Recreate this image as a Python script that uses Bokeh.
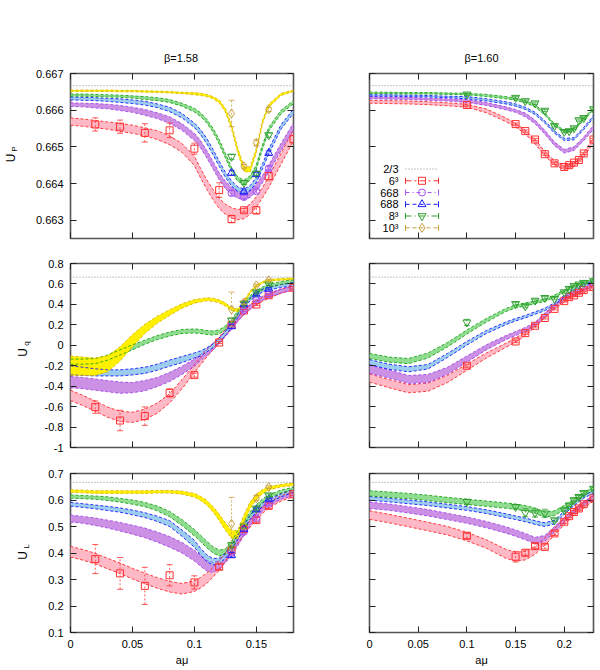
import math
from bokeh.plotting import figure
from bokeh.models import (ColumnDataSource, FixedTicker, LinearAxis, Span, Whisker,
                          TeeHead, CustomJSTickFormatter)
from bokeh.layouts import column, row
from bokeh.embed import file_html
from bokeh.resources import INLINE
from bokeh.core.properties import value

FONT = "Liberation Sans"

# ---------------- series ----------------
SERIES = ["6³", "668", "688", "8³", "10³"]
LINE_COL = ["#ff2020", "#a040e8", "#1010ff", "#10a010", "#d8b400"]
FILL_COL = ["#ffb8c6", "#cc90e4", "#9cccee", "#90dc90", "#fff000"]
MARK_COL = ["#ff3030", "#a855f7", "#2020ff", "#30a030", "#c8a040"]
MARKERS = ["square", "circle", "triangle", "inverted_triangle", "diamond"]
MARK_SIZE = [7, 7, 8, 8, 9]
DASHES = ["6 3 2 3", "4 3 1 3", "4 3", "6 3 1 3", "4 3"]

# ---------------- axes ----------------
TITLES = ["β=1.58", "β=1.60"]
X_RANGES = [(0.0, 0.18), (0.0, 0.23)]
Y_RANGES = [(0.6625, 0.667), (-1.0, 0.8), (0.1, 0.7)]
X_TICKS = [[0.0, 0.05, 0.1, 0.15], [0.0, 0.05, 0.1, 0.15, 0.2]]
X_TICK_LABELS = [["0", "0.05", "0.1", "0.15"], ["0", "0.05", "0.1", "0.15", "0.2"]]
Y_TICKS = [[0.663, 0.664, 0.665, 0.666, 0.667],
           [-1.0, -0.8, -0.6, -0.4, -0.2, 0.0, 0.2, 0.4, 0.6, 0.8],
           [0.1, 0.2, 0.3, 0.4, 0.5, 0.6, 0.7]]
Y_TICK_LABELS = [["0.663", "0.664", "0.665", "0.666", "0.667"],
                 ["-1", "-0.8", "-0.6", "-0.4", "-0.2", "0", "0.2", "0.4", "0.6", "0.8"],
                 ["0.1", "0.2", "0.3", "0.4", "0.5", "0.6", "0.7"]]
Y_NAMES = [("U", "P"), ("U", "q"), ("U", "L")]
X_NAME = "aμ"
TWO_THIRDS = 2.0 / 3.0

# ---------------- bands: beta = 1.58 ----------------
XL = [0.0, 0.01, 0.02, 0.03, 0.04, 0.05, 0.06, 0.07, 0.08, 0.09, 0.10, 0.105, 0.11, 0.115,
      0.12, 0.125, 0.13, 0.135, 0.14, 0.145, 0.15, 0.155, 0.16, 0.17, 0.18]

UP158_6 = [0.66569, 0.66566, 0.66562, 0.66558, 0.66553, 0.66548, 0.66541, 0.66532, 0.66518, 0.66497,
           0.66462, 0.66428, 0.66397, 0.66370, 0.66346, 0.66330, 0.66320, 0.66315, 0.66318, 0.66330,
           0.66350, 0.66375, 0.66404, 0.66468, 0.66532]
UP158_6W = [0.00010, 0.00010, 0.00010, 0.00010, 0.00011, 0.00011, 0.00011, 0.00012, 0.00012, 0.00012,
            0.00013, 0.00013, 0.00013, 0.00014, 0.00014, 0.00014, 0.00014, 0.00014, 0.00014, 0.00014,
            0.00014, 0.00014, 0.00015, 0.00015, 0.00015]
UP158_668 = [0.66615, 0.66614, 0.66612, 0.66610, 0.66606, 0.66601, 0.66594, 0.66585, 0.66573, 0.66554,
             0.66527, 0.66507, 0.66480, 0.66450, 0.66420, 0.66396, 0.66380, 0.66370, 0.66366, 0.66372,
             0.66389, 0.66412, 0.66440, 0.66500, 0.66555]
UP158_668W = [0.00005, 0.00005, 0.00006, 0.00006, 0.00007, 0.00007, 0.00008, 0.00008, 0.00009, 0.00009,
              0.00010, 0.00010, 0.00010, 0.00010, 0.00010, 0.00010, 0.00010, 0.00010, 0.00010, 0.00010,
              0.00010, 0.00010, 0.00010, 0.00010, 0.00010]
UP158_688 = [0.66632, 0.66631, 0.66630, 0.66628, 0.66626, 0.66623, 0.66619, 0.66612, 0.66602, 0.66585,
             0.66559, 0.66540, 0.66516, 0.66486, 0.66454, 0.66424, 0.66400, 0.66384, 0.66378, 0.66387,
             0.66410, 0.66447, 0.66487, 0.66555, 0.66597]
UP158_688W = [0.00004, 0.00004, 0.00004, 0.00004, 0.00005, 0.00005, 0.00005, 0.00005, 0.00006, 0.00006,
              0.00006, 0.00007, 0.00007, 0.00007, 0.00007, 0.00007, 0.00007, 0.00007, 0.00007, 0.00007,
              0.00007, 0.00007, 0.00007, 0.00006, 0.00006]
UP158_8 = [0.66641, 0.66641, 0.66640, 0.66639, 0.66638, 0.66636, 0.66633, 0.66630, 0.66625, 0.66615,
           0.66600, 0.66588, 0.66570, 0.66546, 0.66514, 0.66476, 0.66438, 0.66412, 0.66403, 0.66415,
           0.66445, 0.66500, 0.66548, 0.66595, 0.66622]
UP158_8W = [0.00003, 0.00003, 0.00003, 0.00003, 0.00003, 0.00003, 0.00004, 0.00004, 0.00004, 0.00004,
            0.00005, 0.00005, 0.00005, 0.00005, 0.00006, 0.00006, 0.00006, 0.00006, 0.00006, 0.00006,
            0.00006, 0.00006, 0.00005, 0.00005, 0.00004]
UP158_10 = [0.66653, 0.66653, 0.66653, 0.66653, 0.66652, 0.66652, 0.66651, 0.66650, 0.66649, 0.66647,
            0.66645, 0.66643, 0.66640, 0.66634, 0.66624, 0.66600, 0.66555, 0.66490, 0.66440, 0.66438,
            0.66490, 0.66568, 0.66612, 0.66643, 0.66653]
UP158_10W = [0.00002, 0.00002, 0.00002, 0.00002, 0.00002, 0.00002, 0.00002, 0.00002, 0.00002, 0.00002,
             0.00003, 0.00003, 0.00003, 0.00003, 0.00004, 0.00005, 0.00006, 0.00007, 0.00007, 0.00007,
             0.00006, 0.00005, 0.00004, 0.00003, 0.00002]

UQ158_6 = [-0.49, -0.54, -0.595, -0.655, -0.695, -0.705, -0.675, -0.615, -0.52, -0.38,
           -0.23, -0.155, -0.08, -0.015, 0.05, 0.125, 0.20, 0.265, 0.325, 0.375,
           0.415, 0.45, 0.48, 0.53, 0.56]
UQ158_6W = [0.05, 0.05, 0.05, 0.05, 0.05, 0.05, 0.05, 0.05, 0.045, 0.045,
            0.04, 0.035, 0.035, 0.03, 0.03, 0.03, 0.03, 0.025, 0.025, 0.025,
            0.02, 0.02, 0.02, 0.02, 0.02]
UQ158_668 = [-0.36, -0.37, -0.385, -0.40, -0.415, -0.415, -0.395, -0.36, -0.31, -0.245,
             -0.17, -0.12, -0.07, -0.015, 0.045, 0.11, 0.18, 0.25, 0.32, 0.375,
             0.42, 0.46, 0.49, 0.53, 0.565]
UQ158_668W = [0.055, 0.055, 0.055, 0.055, 0.055, 0.05, 0.05, 0.045, 0.045, 0.04,
              0.035, 0.03, 0.03, 0.03, 0.025, 0.025, 0.025, 0.02, 0.02, 0.02,
              0.02, 0.02, 0.02, 0.02, 0.02]
UQ158_688 = [-0.245, -0.255, -0.265, -0.27, -0.27, -0.26, -0.245, -0.215, -0.175, -0.14,
             -0.10, -0.08, -0.045, -0.005, 0.05, 0.115, 0.19, 0.29, 0.38, 0.45,
             0.50, 0.535, 0.555, 0.58, 0.60]
UQ158_688W = [0.045, 0.04, 0.035, 0.03, 0.03, 0.03, 0.03, 0.03, 0.03, 0.03,
              0.025, 0.025, 0.02, 0.02, 0.02, 0.02, 0.02, 0.02, 0.02, 0.015,
              0.015, 0.015, 0.015, 0.015, 0.015]
UQ158_8 = [-0.16, -0.16, -0.155, -0.12, -0.07, -0.02, 0.03, 0.075, 0.11, 0.135,
           0.14, 0.135, 0.125, 0.12, 0.13, 0.17, 0.23, 0.32, 0.41, 0.47,
           0.52, 0.555, 0.58, 0.61, 0.625]
UQ158_8W = [0.025, 0.025, 0.025, 0.025, 0.025, 0.025, 0.02, 0.02, 0.02, 0.02,
            0.02, 0.02, 0.02, 0.02, 0.02, 0.02, 0.02, 0.02, 0.02, 0.015,
            0.015, 0.015, 0.015, 0.015, 0.015]
UQ158_10 = [-0.20, -0.205, -0.21, -0.18, -0.085, 0.045, 0.16, 0.25, 0.32, 0.385,
            0.43, 0.44, 0.45, 0.445, 0.43, 0.40, 0.355, 0.34, 0.42, 0.52,
            0.58, 0.615, 0.635, 0.645, 0.652]
UQ158_10W = [0.095, 0.09, 0.085, 0.08, 0.07, 0.06, 0.045, 0.035, 0.028, 0.022,
             0.018, 0.016, 0.015, 0.015, 0.015, 0.015, 0.015, 0.015, 0.015, 0.012,
             0.01, 0.008, 0.008, 0.008, 0.008]

UL158_6 = [0.405, 0.393, 0.379, 0.36, 0.342, 0.322, 0.304, 0.287, 0.273, 0.265,
           0.275, 0.288, 0.305, 0.327, 0.352, 0.385, 0.417, 0.45, 0.48, 0.51,
           0.536, 0.56, 0.58, 0.606, 0.622]
UL158_6W = [0.02, 0.02, 0.02, 0.02, 0.02, 0.02, 0.02, 0.02, 0.02, 0.02,
            0.02, 0.02, 0.02, 0.018, 0.018, 0.016, 0.015, 0.014, 0.013, 0.012,
            0.012, 0.011, 0.01, 0.01, 0.01]
UL158_668 = [0.53, 0.525, 0.518, 0.509, 0.499, 0.488, 0.476, 0.46, 0.442, 0.42,
             0.39, 0.37, 0.352, 0.345, 0.355, 0.378, 0.405, 0.44, 0.478, 0.515,
             0.545, 0.568, 0.587, 0.613, 0.627]
UL158_668W = [0.013, 0.013, 0.014, 0.015, 0.016, 0.017, 0.018, 0.019, 0.02, 0.02,
              0.02, 0.02, 0.02, 0.018, 0.016, 0.015, 0.014, 0.013, 0.012, 0.011,
              0.01, 0.01, 0.01, 0.01, 0.01]
UL158_688 = [0.584, 0.579, 0.574, 0.568, 0.562, 0.553, 0.543, 0.529, 0.511, 0.475,
             0.435, 0.405, 0.38, 0.367, 0.37, 0.39, 0.42, 0.46, 0.50, 0.535,
             0.562, 0.582, 0.597, 0.618, 0.635]
UL158_688W = [0.007, 0.007, 0.007, 0.008, 0.008, 0.009, 0.009, 0.01, 0.011, 0.012,
              0.013, 0.013, 0.013, 0.012, 0.011, 0.01, 0.01, 0.009, 0.009, 0.008,
              0.008, 0.007, 0.007, 0.006, 0.006]
UL158_8 = [0.613, 0.611, 0.609, 0.605, 0.599, 0.592, 0.583, 0.568, 0.547, 0.515,
           0.477, 0.455, 0.432, 0.412, 0.40, 0.405, 0.435, 0.475, 0.512, 0.547,
           0.575, 0.597, 0.613, 0.632, 0.643]
UL158_8W = [0.006, 0.006, 0.006, 0.007, 0.007, 0.008, 0.008, 0.009, 0.01, 0.011,
            0.012, 0.012, 0.012, 0.012, 0.011, 0.01, 0.009, 0.009, 0.008, 0.008,
            0.007, 0.007, 0.006, 0.006, 0.005]
UL158_10 = [0.634, 0.632, 0.63, 0.63, 0.63, 0.63, 0.63, 0.631, 0.631, 0.628,
            0.618, 0.606, 0.59, 0.565, 0.535, 0.50, 0.47, 0.47, 0.53, 0.58,
            0.612, 0.632, 0.644, 0.654, 0.659]
UL158_10W = [0.005, 0.005, 0.005, 0.005, 0.005, 0.005, 0.005, 0.005, 0.005, 0.006,
             0.007, 0.008, 0.009, 0.01, 0.012, 0.014, 0.015, 0.015, 0.014, 0.012,
             0.01, 0.008, 0.006, 0.005, 0.005]

# ---------------- bands: beta = 1.60 ----------------
XR = [0.0, 0.02, 0.04, 0.06, 0.08, 0.10, 0.12, 0.14, 0.15, 0.16, 0.17, 0.18, 0.19, 0.20, 0.21, 0.22, 0.23]

UP160_6 = [0.66623, 0.66622, 0.66621, 0.66619, 0.66616, 0.66612, 0.66598, 0.66574, 0.66559, 0.66540,
           0.66514, 0.66482, 0.66456, 0.66444, 0.66452, 0.66478, 0.66518]
UP160_6W = [0.00004, 0.00004, 0.00004, 0.00004, 0.00004, 0.00004, 0.00005, 0.00005, 0.00005, 0.00005,
            0.00006, 0.00006, 0.00006, 0.00006, 0.00006, 0.00006, 0.00006]
UP160_668 = [0.66634, 0.66633, 0.66632, 0.66630, 0.66628, 0.66625, 0.66617, 0.66605, 0.66598, 0.66587,
             0.66568, 0.66540, 0.66508, 0.66488, 0.66495, 0.66522, 0.66553]
UP160_668W = [0.00003, 0.00003, 0.00003, 0.00003, 0.00003, 0.00004, 0.00004, 0.00004, 0.00004, 0.00005,
              0.00005, 0.00005, 0.00005, 0.00005, 0.00005, 0.00005, 0.00005]
UP160_688 = [0.66640, 0.66640, 0.66639, 0.66638, 0.66636, 0.66634, 0.66628, 0.66620, 0.66614, 0.66605,
             0.66591, 0.66568, 0.66540, 0.66520, 0.66522, 0.66550, 0.66582]
UP160_688W = [0.00002, 0.00002, 0.00002, 0.00002, 0.00002, 0.00003, 0.00003, 0.00003, 0.00003, 0.00003,
              0.00003, 0.00003, 0.00003, 0.00003, 0.00003, 0.00003, 0.00003]
UP160_8 = [0.66647, 0.66647, 0.66646, 0.66646, 0.66645, 0.66644, 0.66640, 0.66634, 0.66630, 0.66623,
           0.66612, 0.66590, 0.66560, 0.66542, 0.66548, 0.66575, 0.66604]
UP160_8W = [0.00002, 0.00002, 0.00002, 0.00002, 0.00002, 0.00002, 0.00003, 0.00003, 0.00003, 0.00003,
            0.00003, 0.00003, 0.00003, 0.00003, 0.00003, 0.00003, 0.00003]

UQ160_6 = [-0.32, -0.375, -0.425, -0.41, -0.33, -0.215, -0.10, 0.0, 0.05, 0.115,
           0.195, 0.29, 0.37, 0.435, 0.485, 0.53, 0.57]
UQ160_6W = [0.04, 0.04, 0.04, 0.04, 0.035, 0.03, 0.025, 0.02, 0.02, 0.02,
            0.02, 0.02, 0.015, 0.015, 0.015, 0.015, 0.015]
UQ160_668 = [-0.235, -0.28, -0.335, -0.325, -0.25, -0.135, -0.02, 0.075, 0.115, 0.155,
             0.205, 0.295, 0.385, 0.455, 0.505, 0.55, 0.59]
UQ160_668W = [0.04, 0.04, 0.04, 0.04, 0.035, 0.03, 0.025, 0.02, 0.02, 0.02,
              0.02, 0.02, 0.015, 0.015, 0.015, 0.015, 0.015]
UQ160_688 = [-0.165, -0.21, -0.235, -0.21, -0.10, 0.02, 0.13, 0.215, 0.25, 0.28,
             0.315, 0.35, 0.405, 0.48, 0.54, 0.585, 0.62]
UQ160_688W = [0.025, 0.025, 0.025, 0.022, 0.02, 0.018, 0.015, 0.013, 0.012, 0.012,
              0.012, 0.012, 0.01, 0.01, 0.01, 0.01, 0.01]
UQ160_8 = [-0.105, -0.14, -0.155, -0.10, 0.005, 0.13, 0.245, 0.345, 0.38, 0.40,
           0.42, 0.44, 0.48, 0.53, 0.58, 0.61, 0.635]
UQ160_8W = [0.025, 0.025, 0.025, 0.025, 0.022, 0.02, 0.018, 0.015, 0.015, 0.015,
            0.013, 0.012, 0.012, 0.01, 0.01, 0.01, 0.01]

UL160_6 = [0.543, 0.53, 0.515, 0.5, 0.484, 0.462, 0.434, 0.397, 0.386, 0.39,
           0.41, 0.443, 0.48, 0.52, 0.553, 0.58, 0.606]
UL160_6W = [0.016, 0.016, 0.016, 0.016, 0.016, 0.016, 0.016, 0.017, 0.017, 0.016,
            0.015, 0.014, 0.013, 0.012, 0.011, 0.01, 0.01]
UL160_668 = [0.58, 0.573, 0.563, 0.552, 0.538, 0.524, 0.507, 0.487, 0.475, 0.462,
             0.447, 0.455, 0.49, 0.525, 0.558, 0.587, 0.609]
UL160_668W = [0.012, 0.012, 0.012, 0.012, 0.012, 0.012, 0.012, 0.012, 0.012, 0.012,
              0.012, 0.011, 0.01, 0.009, 0.008, 0.008, 0.008]
UL160_688 = [0.606, 0.6, 0.593, 0.586, 0.577, 0.568, 0.556, 0.541, 0.533, 0.525,
             0.515, 0.507, 0.517, 0.552, 0.585, 0.612, 0.631]
UL160_688W = [0.007, 0.007, 0.007, 0.007, 0.007, 0.007, 0.007, 0.007, 0.007, 0.007,
              0.007, 0.007, 0.007, 0.006, 0.006, 0.005, 0.005]
UL160_8 = [0.625, 0.62, 0.615, 0.608, 0.6, 0.593, 0.586, 0.579, 0.575, 0.569,
           0.56, 0.545, 0.55, 0.572, 0.598, 0.622, 0.643]
UL160_8W = [0.01, 0.01, 0.01, 0.01, 0.01, 0.01, 0.01, 0.01, 0.01, 0.01,
            0.01, 0.01, 0.009, 0.008, 0.007, 0.006, 0.006]

# ---------------- Monte-Carlo points ----------------
X158_6 = [0.02, 0.04, 0.06, 0.08, 0.10, 0.12, 0.13, 0.14, 0.15, 0.16, 0.18]
X158_L = [0.13, 0.14, 0.15, 0.16]
X160 = [0.10, 0.15, 0.16, 0.17, 0.18, 0.19, 0.20, 0.205, 0.21, 0.215, 0.22, 0.23]

UP158_6_PT = [0.66561, 0.66555, 0.66538, 0.66545, 0.66495, 0.66382, 0.66303, 0.66327, 0.66327, 0.66420, 0.66521]
UP158_6_ERR = [0.00018, 0.00018, 0.00025, 0.00020, 0.00015, 0.00020, 0.00010, 0.00005, 0.00010, 0.00010, 0.00010]
UP158_668_PT = [0.66374, 0.66363, 0.66379, 0.66441]
UP158_688_PT = [0.66429, 0.66377, 0.66425, 0.66483]
UP158_8_PT = [0.66473, 0.66402, 0.66427, 0.66532]
UP158_10_PT = [0.66591, 0.66447, 0.66511, 0.66602]
UP158_L_ERR = [0.00007, 0.00005, 0.00005, 0.00006]
UP158_10_ERR = [0.00036, 0.00005, 0.00008, 0.00006]

UQ158_6_PT = [-0.605, -0.736, -0.693, -0.466, -0.292, 0.027, 0.20, 0.34, 0.399, 0.49, 0.563]
UQ158_6_ERR = [0.06, 0.10, 0.09, 0.04, 0.02, 0.01, 0.01, 0.01, 0.01, 0.01, 0.01]
UQ158_668_PT = [0.191, 0.343, 0.441, 0.497]
UQ158_688_PT = [0.185, 0.40, 0.497, 0.553]
UQ158_8_PT = [0.244, 0.408, 0.52, 0.596]
UQ158_10_PT = [0.35, 0.42, 0.586, 0.636]
UQ158_L_ERR = [0.02, 0.015, 0.01, 0.01]
UQ158_10_ERR = [0.17, 0.02, 0.01, 0.01]

UL158_6_PT = [0.377, 0.323, 0.276, 0.316, 0.289, 0.348, 0.41, 0.49, 0.524, 0.578, 0.622]
UL158_6_ERR = [0.055, 0.06, 0.07, 0.04, 0.025, 0.01, 0.01, 0.01, 0.01, 0.01, 0.005]
UL158_668_PT = [0.40, 0.48, 0.53, 0.585]
UL158_688_PT = [0.392, 0.49, 0.564, 0.602]
UL158_8_PT = [0.43, 0.50, 0.568, 0.618]
UL158_10_PT = [0.51, 0.50, 0.607, 0.649]
UL158_L_ERR = [0.01, 0.008, 0.006, 0.005]
UL158_10_ERR = [0.10, 0.01, 0.01, 0.005]

UP160_6_PT = [0.66614, 0.66562, 0.66543, 0.66520, 0.66480, 0.66455, 0.66445, 0.66450, 0.66457, 0.66464, 0.66482, 0.66520]
UP160_8_PT = [0.66643, 0.66634, 0.66625, 0.66619, 0.66599, 0.66557, 0.66541, 0.66543, 0.66551, 0.66573, 0.66579, 0.66603]
UP160_ERR = [0.00003, 0.00003, 0.00003, 0.00003, 0.00003, 0.00003, 0.00003, 0.00003, 0.00003, 0.00003, 0.00003, 0.00003]
UQ160_6_PT = [-0.20, 0.037, 0.119, 0.191, 0.267, 0.356, 0.432, 0.471, 0.488, 0.514, 0.54, 0.57]
UQ160_6_ERR = [0.015, 0.012, 0.012, 0.012, 0.01, 0.01, 0.01, 0.01, 0.01, 0.01, 0.01, 0.01]
UQ160_8_PT = [0.224, 0.405, 0.382, 0.438, 0.464, 0.455, 0.52, 0.553, 0.58, 0.596, 0.612, 0.629]
UQ160_8_ERR = [0.03, 0.012, 0.015, 0.012, 0.012, 0.01, 0.01, 0.01, 0.01, 0.01, 0.01, 0.01]
UL160_6_PT = [0.465, 0.386, 0.401, 0.426, 0.423, 0.474, 0.518, 0.539, 0.555, 0.568, 0.584, 0.606]
UL160_6_ERR = [0.01, 0.02, 0.01, 0.01, 0.008, 0.008, 0.006, 0.006, 0.006, 0.006, 0.006, 0.006]
UL160_8_PT = [0.593, 0.574, 0.552, 0.551, 0.55, 0.524, 0.562, 0.58, 0.60, 0.612, 0.627, 0.643]
UL160_8_ERR = [0.01, 0.008, 0.015, 0.015, 0.015, 0.005, 0.005, 0.005, 0.005, 0.005, 0.005, 0.005]

# ---------------- panel assembly ----------------
BANDS = {
    (0, 0): (XL, [(0, UP158_6, UP158_6W), (1, UP158_668, UP158_668W), (2, UP158_688, UP158_688W),
                  (3, UP158_8, UP158_8W), (4, UP158_10, UP158_10W)]),
    (1, 0): (XL, [(0, UQ158_6, UQ158_6W), (1, UQ158_668, UQ158_668W), (2, UQ158_688, UQ158_688W),
                  (3, UQ158_8, UQ158_8W), (4, UQ158_10, UQ158_10W)]),
    (2, 0): (XL, [(0, UL158_6, UL158_6W), (1, UL158_668, UL158_668W), (2, UL158_688, UL158_688W),
                  (3, UL158_8, UL158_8W), (4, UL158_10, UL158_10W)]),
    (0, 1): (XR, [(0, UP160_6, UP160_6W), (1, UP160_668, UP160_668W), (2, UP160_688, UP160_688W),
                  (3, UP160_8, UP160_8W)]),
    (1, 1): (XR, [(0, UQ160_6, UQ160_6W), (1, UQ160_668, UQ160_668W), (2, UQ160_688, UQ160_688W),
                  (3, UQ160_8, UQ160_8W)]),
    (2, 1): (XR, [(0, UL160_6, UL160_6W), (1, UL160_668, UL160_668W), (2, UL160_688, UL160_688W),
                  (3, UL160_8, UL160_8W)]),
}
POINTS = {
    (0, 0): [(0, X158_6, UP158_6_PT, UP158_6_ERR), (1, X158_L, UP158_668_PT, UP158_L_ERR),
             (2, X158_L, UP158_688_PT, UP158_L_ERR), (3, X158_L, UP158_8_PT, UP158_L_ERR),
             (4, X158_L, UP158_10_PT, UP158_10_ERR)],
    (1, 0): [(0, X158_6, UQ158_6_PT, UQ158_6_ERR), (1, X158_L, UQ158_668_PT, UQ158_L_ERR),
             (2, X158_L, UQ158_688_PT, UQ158_L_ERR), (3, X158_L, UQ158_8_PT, UQ158_L_ERR),
             (4, X158_L, UQ158_10_PT, UQ158_10_ERR)],
    (2, 0): [(0, X158_6, UL158_6_PT, UL158_6_ERR), (1, X158_L, UL158_668_PT, UL158_L_ERR),
             (2, X158_L, UL158_688_PT, UL158_L_ERR), (3, X158_L, UL158_8_PT, UL158_L_ERR),
             (4, X158_L, UL158_10_PT, UL158_10_ERR)],
    (0, 1): [(0, X160, UP160_6_PT, UP160_ERR), (3, X160, UP160_8_PT, UP160_ERR)],
    (1, 1): [(0, X160, UQ160_6_PT, UQ160_6_ERR), (3, X160, UQ160_8_PT, UQ160_8_ERR)],
    (2, 1): [(0, X160, UL160_6_PT, UL160_6_ERR), (3, X160, UL160_8_PT, UL160_8_ERR)],
}

# ---------------- layout (picture pixels; the page itself has no margin) ----------------
PAGE_W, PAGE_H = 600, 670
LEFT_STRIP_W = 32                      # strip holding the y-axis names (full height)
TOP_STRIP_H = 66                       # strip holding the column titles
FIG_X = [(32, 268), (300, 300)]
FRAME_X = [(70, 223), (369, 224)]
FIG_Y = [(66, 184), (250, 210), (460, 210)]
FRAME_Y = [(73, 165), (263, 184), (473, 159)]
# picture positions of the y-axis names: (main letter centre, subscript centre)
NAME_POS = [((10, 157.5), (13.5, 148.5)), ((22, 352), (25.5, 343)), ((22, 555), (25.5, 546))]
TITLE_POS = [(180.5, 57.5), (481.0, 57.5)]


def s2d(r, c, sx, sy):
    fx, fw = FRAME_X[c]
    fy, fh = FRAME_Y[r]
    x0, x1 = X_RANGES[c]
    y0, y1 = Y_RANGES[r]
    return x0 + (sx - fx) / fw * (x1 - x0), y1 - (sy - fy) / fh * (y1 - y0)


def style_axis(ax, ticks, labels, show):
    ax.ticker = FixedTicker(ticks=ticks, minor_ticks=[])
    ax.major_tick_in = 6
    ax.major_tick_out = 0
    ax.minor_tick_line_color = None
    ax.axis_line_color = None
    ax.major_tick_line_color = "#222222"
    ax.major_tick_line_width = 1
    if show:
        ax.major_label_overrides = {t: l for t, l in zip(ticks, labels)}
        ax.major_label_text_font = FONT
        ax.major_label_text_font_size = "11px"
        ax.major_label_text_color = "#000000"
        ax.major_label_standoff = 7
    else:
        ax.formatter = CustomJSTickFormatter(code="return ''")
        ax.major_label_text_font_size = "0px"
        ax.major_label_standoff = 0


def blank_strip(w, h):
    s = figure(width=w, height=h, x_range=(0, w), y_range=(0, h), output_backend="svg",
               toolbar_location=None, x_axis_type=None, y_axis_type=None, title=None,
               min_border_left=0, min_border_right=0, min_border_top=0, min_border_bottom=0)
    s.outline_line_color = None
    s.grid.visible = False
    return s


# left strip: y-axis names, coordinates = picture pixels (y flipped)
left_strip = blank_strip(LEFT_STRIP_W, PAGE_H)
for r in range(3):
    main, sub = Y_NAMES[r]
    (ux, uy), (bx, by) = NAME_POS[r]
    left_strip.text(x=[ux], y=[PAGE_H - uy], text=[main], angle=math.pi / 2,
                    text_align="center", text_baseline="middle", text_font=value(FONT),
                    text_font_size="12px", text_color="#000000")
    left_strip.text(x=[bx], y=[PAGE_H - by], text=[sub], angle=math.pi / 2,
                    text_align="center", text_baseline="middle", text_font=value(FONT),
                    text_font_size="8px", text_color="#000000")

# top strip: column titles
top_strip = blank_strip(PAGE_W - LEFT_STRIP_W, TOP_STRIP_H)
top_strip.text(x=[tx - LEFT_STRIP_W for tx, ty in TITLE_POS],
               y=[TOP_STRIP_H - ty for tx, ty in TITLE_POS], text=TITLES,
               text_align="center", text_baseline="middle", text_font=value(FONT),
               text_font_size="11px", text_color="#000000")


def make_panel(r, c):
    fxl, fw = FIG_X[c]
    fyt, fh = FIG_Y[r]
    frx, frw = FRAME_X[c]
    fry, frh = FRAME_Y[r]
    p = figure(width=fw, height=fh, x_range=X_RANGES[c], y_range=Y_RANGES[r],
               output_backend="svg", toolbar_location=None, title=None,
               min_border_left=frx - fxl, min_border_right=fw - (frx - fxl) - frw,
               min_border_top=fry - fyt, min_border_bottom=fh - (fry - fyt) - frh)
    p.xgrid.visible = False
    p.ygrid.visible = False
    p.outline_line_color = "#555555"
    p.outline_line_width = 1.6
    p.background_fill_color = "white"
    p.border_fill_color = "white"

    p.add_layout(LinearAxis(), "above")
    p.add_layout(LinearAxis(), "right")
    style_axis(p.below[0], X_TICKS[c], X_TICK_LABELS[c], r == 2)
    style_axis(p.above[0], X_TICKS[c], X_TICK_LABELS[c], False)
    style_axis(p.left[0], Y_TICKS[r], Y_TICK_LABELS[r], c == 0)
    style_axis(p.right[0], Y_TICKS[r], Y_TICK_LABELS[r], False)
    if r == 2:
        ax = p.below[0]
        ax.major_label_standoff = 7
        ax.axis_label = X_NAME
        ax.axis_label_standoff = 3
        ax.axis_label_text_font = FONT
        ax.axis_label_text_font_size = "11px"
        ax.axis_label_text_font_style = "normal"
        ax.axis_label_text_color = "#000000"

    xs, bands = BANDS[(r, c)]
    srcs = []
    for si, cen, hw in bands:
        src = ColumnDataSource(dict(x=xs, lo=[a - b for a, b in zip(cen, hw)],
                                    hi=[a + b for a, b in zip(cen, hw)]))
        srcs.append((si, src))
        p.varea(x="x", y1="lo", y2="hi", source=src, fill_color=FILL_COL[si], fill_alpha=1.0)
    for si, src in srcs:
        for key in ("lo", "hi"):
            p.line("x", key, source=src, line_color=LINE_COL[si], line_width=1,
                   line_dash="3 2", line_alpha=0.85)

    p.add_layout(Span(location=TWO_THIRDS, dimension="width", line_color="#888888",
                      line_dash="1 2", line_width=1))

    for si, px, py, pe in POINTS[(r, c)]:
        src = ColumnDataSource(dict(x=px, y=py, lo=[a - b for a, b in zip(py, pe)],
                                    hi=[a + b for a, b in zip(py, pe)]))
        p.add_layout(Whisker(source=src, base="x", upper="hi", lower="lo", level="overlay",
                             line_color=MARK_COL[si], line_width=1, line_dash="2 2", line_alpha=0.8,
                             upper_head=TeeHead(size=6, line_color=MARK_COL[si], line_width=1, line_alpha=0.8),
                             lower_head=TeeHead(size=6, line_color=MARK_COL[si], line_width=1, line_alpha=0.8)))
        p.scatter("x", "y", source=src, marker=MARKERS[si], size=MARK_SIZE[si],
                  line_color=MARK_COL[si], fill_color=None, line_width=1)
    return p


panels = {(r, c): make_panel(r, c) for r in range(3) for c in range(2)}

# ---------------- legend (drawn into the beta=1.60 U_P panel) ----------------
lp = panels[(0, 1)]
LEG_TEXT = ["2/3"] + SERIES
LEG_ROWS_Y = [168.5, 180.3, 192.0, 203.8, 215.5, 227.3]
fy0, fh0 = FRAME_Y[0]
cap = 3.0 / fh0 * (Y_RANGES[0][1] - Y_RANGES[0][0])
tx_ = [s2d(0, 1, 398, yy)[0] for yy in LEG_ROWS_Y]
ty_ = [s2d(0, 1, 398, yy)[1] for yy in LEG_ROWS_Y]
lp.text(x=tx_, y=ty_, text=LEG_TEXT, text_align="right", text_baseline="middle",
        text_font=value(FONT), text_font_size="11px", text_color="#000000")
xa = s2d(0, 1, 405, 0)[0]
xb = s2d(0, 1, 438, 0)[0]
xm = s2d(0, 1, 421.5, 0)[0]
lp.segment(x0=[xa], y0=[ty_[0]], x1=[xb], y1=[ty_[0]], line_color="#888888", line_dash="1 2", line_width=1)
for k in range(5):
    yy = ty_[k + 1]
    lp.segment(x0=[xa], y0=[yy], x1=[xb], y1=[yy], line_color=MARK_COL[k], line_dash=DASHES[k], line_width=1)
    lp.segment(x0=[xa, xb], y0=[yy - cap, yy - cap], x1=[xa, xb], y1=[yy + cap, yy + cap],
               line_color=MARK_COL[k], line_width=1)
    lp.scatter(x=[xm], y=[yy], marker=MARKERS[k], size=MARK_SIZE[k], line_color=MARK_COL[k],
               fill_color=None, line_width=1)

grid = column(top_strip, *[row(panels[(r, 0)], panels[(r, 1)]) for r in range(3)])
layout = row(left_strip, grid)

open("out.html", "w").write(file_html(layout, INLINE))
